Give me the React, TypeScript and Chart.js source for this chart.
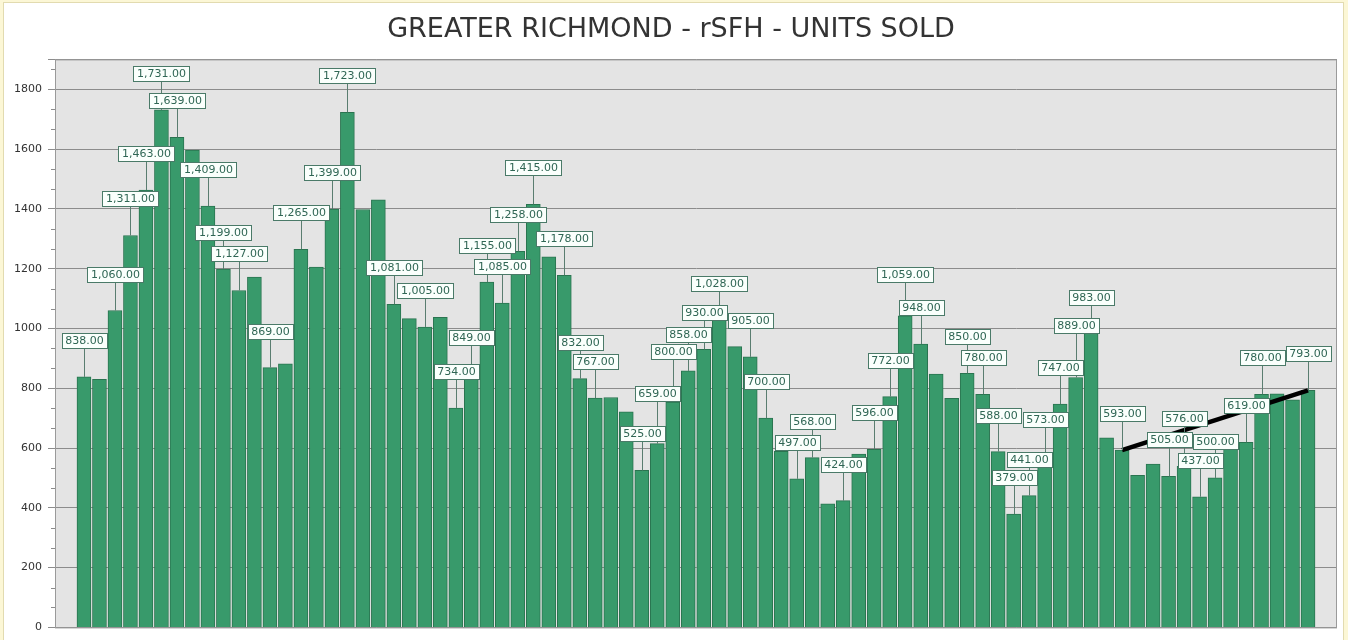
import React, { useEffect, useRef } from 'react';
import { Chart, registerables } from 'chart.js';

Chart.register(...registerables);

const titleText = 'GREATER RICHMOND - rSFH - UNITS SOLD';

// month index of each bar (1 .. 80)
const periodIndex: number[] = Array.from({ length: 80 }, (_, i) => i + 1);

// bar heights as drawn
const unitsSold: number[] = [
  838, 830, 1060, 1311, 1463, 1731, 1639, 1597, 1409, 1199,
  1127, 1172, 869, 882, 1265, 1205, 1399, 1723, 1398, 1430,
  1081, 1033, 1005, 1037, 734, 849, 1155, 1085, 1258, 1415,
  1240, 1178, 832, 767, 769, 721, 525, 615, 754, 858,
  930, 1028, 939, 905, 700, 589, 497, 568, 413, 424,
  580, 596, 772, 1042, 948, 847, 766, 850, 780, 588,
  379, 441, 535, 747, 836, 983, 634, 593, 509, 546,
  505, 539, 437, 500, 596, 619, 780, 781, 761, 793,
];

// printed value labels (null = no label shown)
const labelValues: (number | null)[] = [
  838, null, 1060, 1311, 1463, 1731, 1639, null, 1409, 1199,
  1127, null, 869, null, 1265, null, 1399, 1723, null, null,
  1081, null, 1005, null, 734, 849, 1155, 1085, 1258, 1415,
  null, 1178, 832, 767, null, null, 525, 659, 800, 858,
  930, 1028, null, 905, 700, null, 497, 568, null, 424,
  null, 596, 772, 1059, 948, null, null, 850, 780, 588,
  379, 441, 573, 747, 889, 983, null, 593, null, null,
  505, 576, 437, 500, null, 619, 780, null, null, 793,
];

// black trend segment
const trendIndex: number[] = [68, 80];
const trendValues: number[] = [593, 793];

const yTickStep = 200;

const framePlugin = {
  id: 'frame',
  beforeDraw(chart: any) {
    const { ctx, width, height, chartArea } = chart;
    ctx.save();
    ctx.fillStyle = '#fcf7d6';
    ctx.fillRect(0, 0, width, height);
    ctx.fillStyle = '#ffffff';
    ctx.fillRect(4, 3, width - 9, height - 3);
    ctx.strokeStyle = '#e2dbb0';
    ctx.lineWidth = 1;
    ctx.strokeRect(3.5, 2.5, width - 8, height);
    ctx.fillStyle = '#e4e4e4';
    ctx.fillRect(chartArea.left, chartArea.top, chartArea.right - chartArea.left, chartArea.bottom - chartArea.top);
    ctx.restore();
  },
  afterDraw(chart: any) {
    const { ctx, chartArea } = chart;
    const y = chart.scales.y;
    ctx.save();
    ctx.strokeStyle = '#9a9a9a';
    ctx.lineWidth = 1;
    ctx.strokeRect(chartArea.left + 0.5, chartArea.top + 0.5, chartArea.right - chartArea.left - 1, chartArea.bottom - chartArea.top);
    // minor ticks
    ctx.strokeStyle = '#8c8c8c';
    const minorStep = yTickStep / 3;
    for (let v = 0; v <= y.max; v += minorStep) {
      const r = Math.round(v);
      if (r % yTickStep === 0) continue;
      const py = Math.round(y.getPixelForValue(v)) + 0.5;
      ctx.beginPath();
      ctx.moveTo(chartArea.left - 4, py);
      ctx.lineTo(chartArea.left, py);
      ctx.stroke();
    }
    ctx.restore();
  },
};

const labelPlugin = {
  id: 'valueLabels',
  afterDatasetsDraw(chart: any) {
    const { ctx } = chart;
    const xs = chart.scales.x;
    const ys = chart.scales.y;
    ctx.save();
    ctx.font = '11px "DejaVu Sans", Verdana, sans-serif';
    ctx.textAlign = 'center';
    ctx.textBaseline = 'middle';
    const boxes: any[] = [];
    labelValues.forEach((lv, i) => {
      if (lv == null) return;
      const x = Math.round(xs.getPixelForValue(periodIndex[i]));
      const cy = Math.round(ys.getPixelForValue(lv) - 37);
      const text = lv.toLocaleString('en-US', { minimumFractionDigits: 2, maximumFractionDigits: 2 });
      const w = Math.round(ctx.measureText(text).width + 7);
      const h = 15;
      const barTop = ys.getPixelForValue(unitsSold[i]);
      boxes.push({ x, cy, text, w, h, barTop });
    });
    ctx.strokeStyle = '#5a7d70';
    ctx.lineWidth = 1;
    boxes.forEach((b) => {
      ctx.beginPath();
      ctx.moveTo(b.x + 0.5, b.cy + b.h / 2);
      ctx.lineTo(b.x + 0.5, b.barTop);
      ctx.stroke();
    });
    boxes.forEach((b) => {
      const left = Math.round(b.x - b.w / 2) + 0.5;
      const top = Math.round(b.cy - b.h / 2) + 0.5;
      ctx.fillStyle = '#fafffc';
      ctx.fillRect(left, top, b.w, b.h);
      ctx.strokeStyle = '#4a7a68';
      ctx.strokeRect(left, top, b.w, b.h);
      ctx.fillStyle = '#2f6654';
      ctx.fillText(b.text, b.x + 0.5, b.cy + 1);
    });
    ctx.restore();
  },
};

export default function App() {
  const ref = useRef<HTMLCanvasElement | null>(null);

  useEffect(() => {
    document.body.style.margin = '0';
    const canvas = ref.current;
    if (!canvas) return;
    const chart = new Chart(canvas, {
      data: {
        datasets: [
          {
            type: 'line',
            data: trendIndex.map((x, i) => ({ x, y: trendValues[i] })),
            borderColor: '#000000',
            borderWidth: 4.5,
            pointRadius: 0,
            order: 1,
          } as any,
          {
            type: 'bar',
            data: periodIndex.map((x, i) => ({ x, y: unitsSold[i] })),
            backgroundColor: '#389a6b',
            borderColor: '#2a7450',
            borderWidth: 1,
            barThickness: 14,
            order: 2,
          } as any,
        ],
      },
      options: {
        responsive: false,
        animation: false,
        events: [],
        layout: { padding: { left: 5, right: 11, top: 0, bottom: 9 } },
        plugins: {
          legend: { display: false },
          tooltip: { enabled: false },
          title: {
            display: true,
            text: titleText,
            color: '#333333',
            font: { family: '"DejaVu Sans", Verdana, sans-serif', size: 27, weight: 'normal' },
            padding: { top: 14, bottom: 13 },
          },
        },
        scales: {
          x: {
            type: 'linear',
            min: -0.87,
            max: 81.87,
            offset: false,
            display: false,
          },
          y: {
            min: 0,
            max: 1900,
            ticks: {
              stepSize: yTickStep,
              color: '#333333',
              padding: 6,
              font: { family: '"DejaVu Sans", Verdana, sans-serif', size: 11 },
              callback: (v: any) => (Number(v) % yTickStep === 0 ? String(v) : ''),
            },
            grid: { color: '#8c8c8c', tickColor: '#8c8c8c', tickLength: 7 },
            border: { color: '#9a9a9a' },
            afterFit: (s: any) => {
              s.width = 50;
            },
          },
        },
      } as any,
      plugins: [framePlugin, labelPlugin],
    });
    return () => chart.destroy();
  }, []);

  return (
    <div style={{ position: 'absolute', left: 0, top: 0, width: 1348, height: 640 }}>
      <canvas ref={ref} width={1348} height={640} style={{ display: 'block', width: 1348, height: 640 }} />
    </div>
  );
}
